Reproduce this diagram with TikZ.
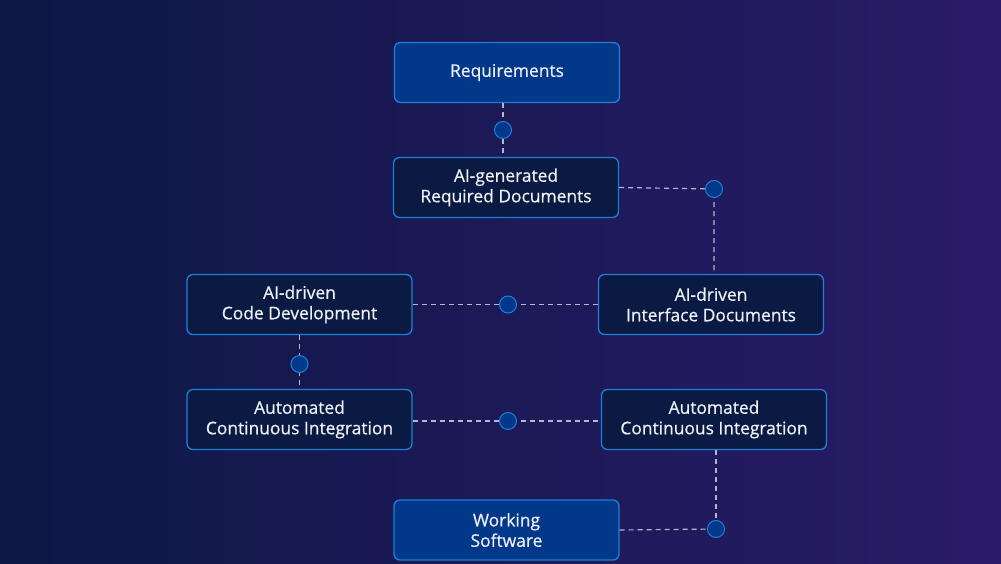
\documentclass[tikz,border=0pt]{standalone}
\usepackage{fontspec}
\setmainfont{Open Sans}
\newfontfamily\boxfont{Open Sans}[FakeBold=0.6]

\definecolor{bgleft}{HTML}{0D1846}
\definecolor{bgright}{HTML}{2A1B68}
\definecolor{boxdark}{HTML}{0A1A42}
\definecolor{boxblue}{HTML}{01388A}
\definecolor{boxline}{HTML}{1E80D8}
\definecolor{boxtext}{HTML}{EEF0F6}
\definecolor{linkgray}{HTML}{B4B6CC}

\begin{document}
\begin{tikzpicture}[x=1pt, y=-1pt,
    box/.style={draw=boxline, fill=boxdark, line width=1.3pt, rounded corners=6pt,
        minimum width=225pt, minimum height=60pt, inner sep=0pt, align=center,
        text=boxtext, font=\boxfont\fontsize{17.4}{20.5}\selectfont},
    keybox/.style={box, fill=boxblue},
    link/.style={linkgray, line width=1.2pt, dash pattern=on 5pt off 4pt},
    dot/.style={circle, draw=boxline, fill=boxblue, line width=1pt, minimum size=17pt, inner sep=0pt}]
    % background
    \shade[left color=bgleft, right color=bgright] (0,0) rectangle (1001,564);
    \useasboundingbox (0,0) rectangle (1001,564);

    % boxes
    \node[keybox] (req) at (507,72.5) {Requirements};
    \node[box] (gen) at (506,187.5) {AI-generated\\Required Documents};
    \node[box] (code) at (299.5,304.5) {AI-driven\\Code Development};
    \node[box] (iface) at (711,304.5) {AI-driven\\Interface Documents};
    \node[box] (ciL) at (299.5,419.5) {Automated\\Continuous Integration};
    \node[box] (ciR) at (714,419.5) {Automated\\Continuous Integration};
    \node[keybox] (work) at (506.5,530) {Working\\Software};

    % joints
    \coordinate (j1) at (503,130);
    \coordinate (j2) at (714,189);
    \coordinate (j3) at (508,304.5);
    \coordinate (j4) at (299.5,364);
    \coordinate (j5) at (508,421);
    \coordinate (j6) at (716,529);

    % dashed links
    \draw[link] (req.south -| j1) -- (j1) -- (gen.north -| j1);
    \draw[link] (gen.east) -- (j2) -- (j2 |- iface.north);
    \draw[link] (code.east) -- (j3) -- (iface.west);
    \draw[link] (code.south) -- (j4) -- (ciL.north);
    \draw[link] (ciL.east |- j5) -- (j5) -- (ciR.west |- j5);
    \draw[link] (work.east) -- (j6);
    \draw[link] (ciR.south -| j6) -- (j6);

    % dots
    \foreach \j in {j1,j2,j3,j4,j5,j6}
        \node[dot] at (\j) {};
\end{tikzpicture}
\end{document}
